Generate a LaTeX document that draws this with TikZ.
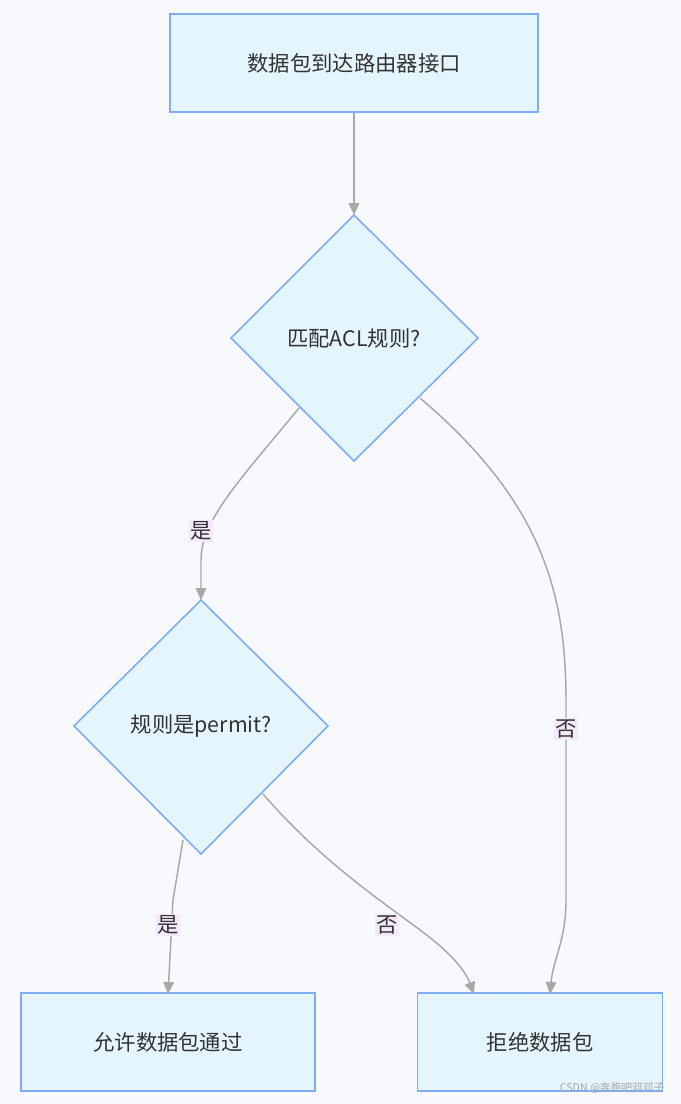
\documentclass[tikz,border=0pt]{standalone}
\usepackage{fontspec}
\setmainfont{Noto Sans CJK SC}
\usetikzlibrary{shapes.geometric,arrows.meta}
\definecolor{bg}{HTML}{F8F9FC}
\definecolor{nfill}{HTML}{E5F5FD}
\definecolor{nline}{HTML}{7EADF5}
\definecolor{eline}{HTML}{A8A8A8}
\definecolor{lbl}{HTML}{F3E9FA}
\tikzset{
 boxnode/.style={draw=nline,fill=nfill,line width=1.2pt,minimum width=276pt,minimum height=73.5pt,font=\fontsize{16}{19}\selectfont,text=black!80},
 dia/.style={draw=nline,fill=nfill,line width=1.2pt,diamond,inner sep=0pt,font=\fontsize{16}{19}\selectfont,text=black!80},
 edge/.style={draw=eline,line width=1.1pt,-{Triangle[length=9pt,width=8pt,fill=eline]}},
 elabel/.style={fill=lbl,inner sep=1pt,font=\fontsize{16}{19}\selectfont,text=black!80}
}
\begin{document}
\begin{tikzpicture}[x=0.75pt,y=-0.75pt]
\fill[bg] (0,0) rectangle (681,1104);
\useasboundingbox (0,0) rectangle (681,1104);
\node[boxnode] (start) at (354,63) {数据包到达路由器接口};
\draw[draw=nline,fill=nfill,line width=1.2pt] (231,338) -- (354,215) -- (478,338) -- (354,461) -- cycle;
\node[font=\fontsize{16}{19}\selectfont,text=black!80] (d1) at (354,338) {匹配ACL规则?};
\draw[draw=nline,fill=nfill,line width=1.2pt] (74,726) -- (201,600) -- (328,726) -- (201,854) -- cycle;
\node[font=\fontsize{16}{19}\selectfont,text=black!80] (d2) at (201,726) {规则是permit?};
\node[boxnode,minimum width=220.5pt] (allow) at (168,1042) {允许数据包通过};
\node[boxnode,minimum width=183.75pt] (deny) at (540,1042) {拒绝数据包};
\coordinate (d1t) at (354,215);
\coordinate (d2t) at (201,600);
\coordinate (d1l) at (299,408);
\coordinate (d1r) at (420,398);
\coordinate (d2b) at (183,840);
\coordinate (d2r) at (263,794);
\coordinate (at) at (168,994);
\coordinate (dt1) at (550,994);
\coordinate (dt2) at (474,994);
\draw[edge] (start.south) -- (d1t);
\draw[edge] (d1l) .. controls (240,480) and (201,520) .. (201,560) -- (d2t);
\draw[edge] (d1r) .. controls (540,500) and (566,590) .. (566,700) -- (566,900) .. controls (566,940) and (553,960) .. (dt1);
\draw[edge] (d2b) -- (173,900) -- (at);
\draw[edge] (d2r) .. controls (320,860) and (380,900) .. (420,930) .. controls (450,952) and (465,970) .. (dt2);
\node[elabel] (l1) at (201,531) {是};
\node[elabel] (l2) at (566,729) {否};
\node[elabel] (l3) at (168,925) {是};
\node[elabel] (l4) at (387,925) {否};
\node[font=\fontsize{8}{10}\selectfont,text=black!35] (wm) at (612,1088) {CSDN @奔跑吧邓邓子};
\end{tikzpicture}
\end{document}
